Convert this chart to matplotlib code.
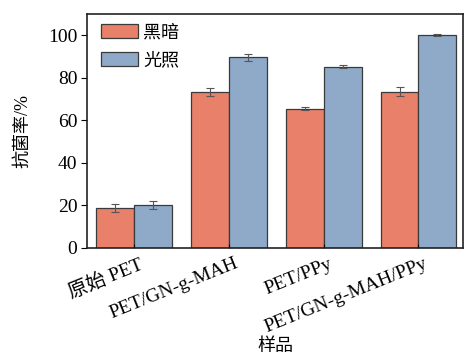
import matplotlib
matplotlib.use("Agg")
import matplotlib.pyplot as plt
import numpy as np

plt.rcParams['font.family'] = ['Liberation Serif', 'Noto Sans CJK SC']
plt.rcParams['mathtext.fontset'] = 'stix'

categories = ["原始 PET", "PET/GN-g-MAH", "PET/PPy", "PET/GN-g-MAH/PPy"]
dark = [18.8, 73.3, 65.5, 73.5]
dark_err = [2.0, 2.0, 0.7, 2.0]
light = [20.3, 89.6, 85.1, 100.1]
light_err = [2.0, 1.5, 0.7, 0.3]
series_names = ["黑暗", "光照"]
yticks = [0, 20, 40, 60, 80, 100]

fig = plt.figure(figsize=(4.65, 3.56), dpi=100)
ax = fig.add_axes([87/465, 1-248/356, (463-87)/465, (248-14)/356])

x = np.arange(len(categories))
w = 0.4
ek = dict(ecolor='#555555', elinewidth=0.8, capsize=3, capthick=0.8)
ax.bar(x - w/2, dark, w, yerr=dark_err, color='#E8806A', edgecolor='#3a3a3a',
       linewidth=0.9, label=series_names[0], error_kw=ek)
ax.bar(x + w/2, light, w, yerr=light_err, color='#8FAAC9', edgecolor='#3a3a3a',
       linewidth=0.9, label=series_names[1], error_kw=ek)

ax.set_xlim(-0.5, 3.47)
ax.set_ylim(0, 110)
ax.set_yticks(yticks)
ax.tick_params(axis='y', direction='out', length=4, labelsize=14, pad=3)
ax.set_xticks(x)
ax.set_xticklabels([])
ax.tick_params(axis='x', direction='in', length=3)

for i, lab in enumerate(categories):
    ax.annotate(lab, xy=(x[i], 0), xycoords=('data', 'axes fraction'),
                xytext=(3.5, -5), textcoords='offset points',
                rotation=22, ha='right', va='top', rotation_mode='anchor',
                fontsize=14)

for s in ax.spines.values():
    s.set_linewidth(1.2)
    s.set_color('#222222')

ax.set_ylabel("抗菌率/%", fontsize=13, labelpad=12)
fig.text((87+463)/2/465, 1-347/356, "样品", ha='center', va='center', fontsize=13)

leg = ax.legend(loc='upper left', bbox_to_anchor=(0.012, 1.0), frameon=False,
                fontsize=13, handlelength=2.0, handleheight=0.8, borderaxespad=0.15,
                labelspacing=0.6, handletextpad=0.3, borderpad=0.4)

fig.savefig("out.png", dpi=100)
